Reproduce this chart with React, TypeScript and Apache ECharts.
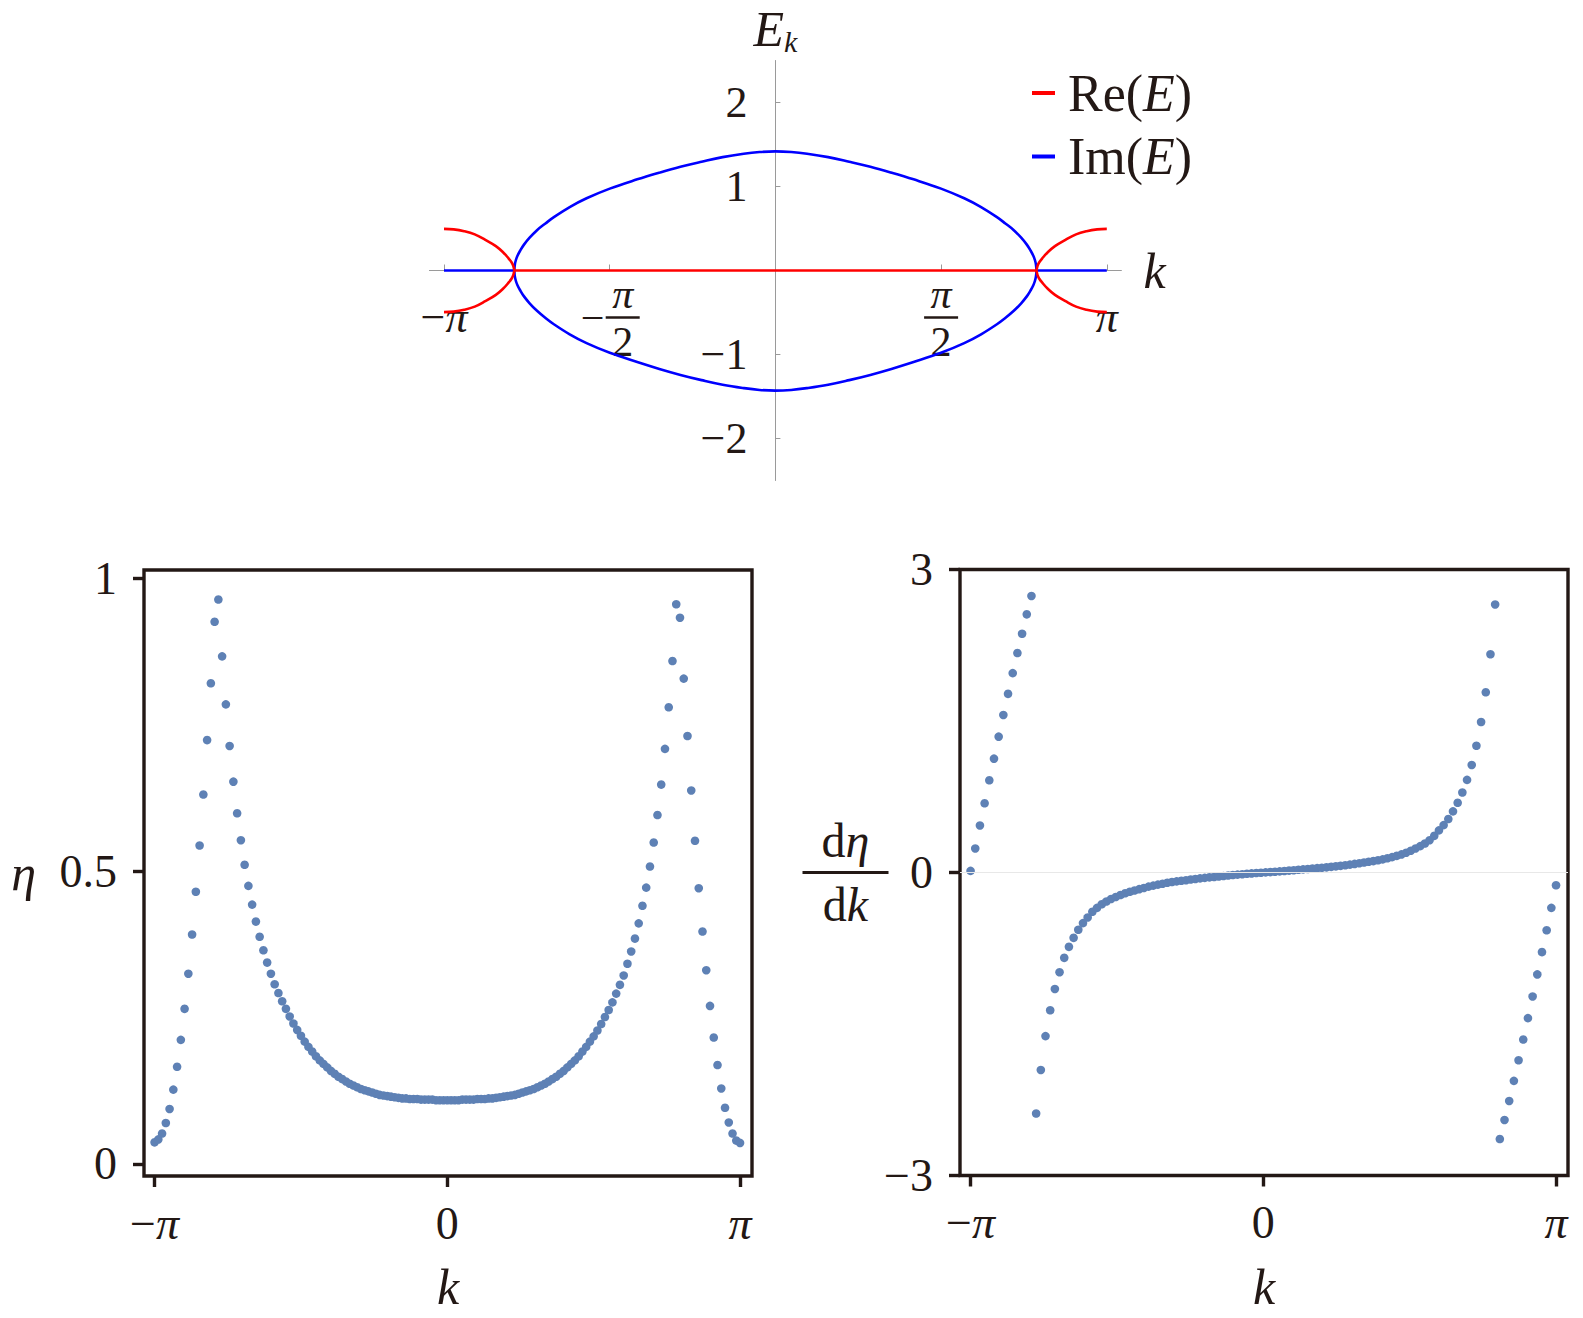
import React, { useEffect, useRef } from 'react';
import * as echarts from 'echarts';

const PI = Math.PI;
const FONT = '"Liberation Serif", "Times New Roman", Times, serif';
const INK = '#231815';
const DOT = '#5e81b5';
const RED = '#ff0000';
const BLUE = '#0000ff';
const AXIS_GRAY = '#9a9a9a';

// ---------- top panel: E_k ----------
const imCurveK = [-2.475, -2.47, -2.46, -2.445, -2.42, -2.385, -2.33, -2.26, -2.18, -2.1, -1.95, -1.79, -1.57, -1.31, -1.1, -0.9, -0.7, -0.5, -0.3, -0.15, 0,
  0.15, 0.3, 0.5, 0.7, 0.9, 1.1, 1.31, 1.57, 1.79, 1.95, 2.1, 2.18, 2.26, 2.33, 2.385, 2.42, 2.445, 2.46, 2.47, 2.475];
const imUpper = [0, 0.07, 0.125, 0.175, 0.235, 0.305, 0.39, 0.48, 0.56, 0.635, 0.755, 0.86, 0.975, 1.085, 1.165, 1.235, 1.295, 1.35, 1.39, 1.41, 1.418,
  1.41, 1.39, 1.35, 1.295, 1.235, 1.165, 1.085, 0.975, 0.86, 0.755, 0.635, 0.56, 0.48, 0.39, 0.305, 0.235, 0.175, 0.125, 0.07, 0];
const imLower = [0, -0.07, -0.125, -0.175, -0.235, -0.305, -0.39, -0.48, -0.565, -0.64, -0.76, -0.865, -0.98, -1.09, -1.172, -1.243, -1.305, -1.36, -1.4, -1.422, -1.43,
  -1.422, -1.4, -1.36, -1.305, -1.243, -1.172, -1.09, -0.98, -0.865, -0.76, -0.64, -0.565, -0.48, -0.39, -0.305, -0.235, -0.175, -0.125, -0.07, 0];
const imZeroLeftK = [-PI, -2.475];
const imZeroRightK = [2.475, PI];
const zeroPair = [0, 0];

const reLeftK = [-PI, -3.05, -2.95, -2.85, -2.75, -2.65, -2.58, -2.53, -2.5, -2.485, -2.475];
const reLeftUpper = [0.496, 0.49, 0.468, 0.43, 0.365, 0.29, 0.215, 0.145, 0.095, 0.055, 0];
const reLeftLower = [-0.496, -0.49, -0.468, -0.43, -0.365, -0.29, -0.215, -0.145, -0.095, -0.055, 0];
const reRightK = [2.475, 2.485, 2.5, 2.53, 2.58, 2.65, 2.75, 2.85, 2.95, 3.05, PI];
const reRightUpper = [0, 0.055, 0.095, 0.145, 0.215, 0.29, 0.365, 0.43, 0.468, 0.49, 0.496];
const reRightLower = [0, -0.055, -0.095, -0.145, -0.215, -0.29, -0.365, -0.43, -0.468, -0.49, -0.496];
const reZeroK = [-2.475, 2.475];

const topXTicks = [-PI, -PI / 2, PI / 2, PI];
const topYTicks = [-2, -1, 1, 2];

// ---------- bottom-left: eta(k), 157 samples from -pi to pi ----------
const etaValues = [
  0.037, 0.042, 0.052, 0.070, 0.094, 0.127, 0.166, 0.212, 0.265, 0.325,
  0.392, 0.465, 0.544, 0.631, 0.724, 0.821, 0.926, 0.964, 0.867, 0.785,
  0.714, 0.653, 0.599, 0.553, 0.511, 0.475, 0.443, 0.414, 0.388, 0.365,
  0.344, 0.325, 0.307, 0.292, 0.278, 0.265, 0.252, 0.240, 0.229, 0.219,
  0.209, 0.200, 0.192, 0.184, 0.177, 0.171, 0.165, 0.159, 0.154, 0.149,
  0.145, 0.141, 0.137, 0.134, 0.131, 0.128, 0.126, 0.124, 0.122, 0.120,
  0.118, 0.117, 0.116, 0.115, 0.114, 0.113, 0.112, 0.112, 0.111, 0.111,
  0.111, 0.110, 0.110, 0.110, 0.110, 0.109, 0.109, 0.109, 0.109,
  0.109, 0.109, 0.109, 0.110, 0.110, 0.110, 0.110, 0.111, 0.111, 0.111,
  0.112, 0.112, 0.113, 0.114, 0.115, 0.116, 0.117, 0.118, 0.120, 0.122,
  0.124, 0.126, 0.128, 0.131, 0.134, 0.137, 0.141, 0.145, 0.149, 0.154,
  0.159, 0.165, 0.171, 0.177, 0.184, 0.192, 0.200, 0.209, 0.218, 0.228,
  0.239, 0.251, 0.263, 0.276, 0.291, 0.306, 0.322, 0.342, 0.363, 0.385,
  0.411, 0.441, 0.472, 0.508, 0.549, 0.596, 0.648, 0.709, 0.780, 0.859,
  0.956, 0.933, 0.829, 0.731, 0.638, 0.552, 0.471, 0.397, 0.331, 0.270,
  0.216, 0.169, 0.129, 0.096, 0.071, 0.052, 0.040, 0.036,
];

// ---------- bottom-right: d eta / dk, 126 samples from -pi to pi ----------
const detaValues = [
  0.016, 0.238, 0.466, 0.685, 0.913, 1.127, 1.345, 1.56, 1.769, 1.974, 2.173, 2.364, 2.556, 2.738,
  -2.386, -1.955, -1.62, -1.364, -1.153, -0.987, -0.845, -0.736, -0.647, -0.567, -0.501, -0.445, -0.389,
  -0.35, -0.315, -0.287, -0.262, -0.242, -0.223, -0.206, -0.191, -0.178, -0.165, -0.153, -0.140, -0.130, -0.120, -0.111,
  -0.101, -0.094, -0.088, -0.082, -0.076, -0.070, -0.064, -0.058, -0.053, -0.048, -0.044, -0.040, -0.035, -0.030, -0.025, -0.021, -0.017, -0.013, -0.009, -0.005, -0.002,
  0.001, 0.004, 0.008, 0.011, 0.015, 0.019, 0.023, 0.027, 0.031, 0.035, 0.039, 0.043, 0.047, 0.051, 0.056, 0.061, 0.066, 0.072, 0.078, 0.085, 0.092, 0.099, 0.106, 0.113, 0.121, 0.130,
  0.141, 0.152, 0.165, 0.179, 0.196, 0.216, 0.238, 0.261, 0.287, 0.32, 0.363, 0.417, 0.469, 0.529, 0.605, 0.69, 0.792, 0.917, 1.065, 1.255, 1.49, 1.784, 2.161, 2.654,
  -2.639, -2.45, -2.262, -2.063, -1.859, -1.654, -1.442, -1.227, -1.009, -0.788, -0.572, -0.35, -0.126,
];

const bottomXTicks = [-PI, 0, PI];
const etaYTicks = [0, 0.5, 1];
const detaYTicks = [-3, 0, 3];

const pairs = (ks: number[], vs: number[]) => ks.map((k, i) => [k, vs[i]]);
const gridSamples = (vs: number[]) => {
  const step = (2 * PI) / (vs.length - 1);
  return vs.map((v, i) => [-PI + i * step, v]);
};
const near = (a: number, b: number) => Math.abs(a - b) < 1e-6;
const numFmt = (v: number) => (v < 0 ? '\u2212' + String(Math.abs(v)) : String(v));

const topXLabel = (v: number) => {
  if (near(v, -PI)) return '{n|\u2212}{pi|\u03c0}';
  if (near(v, PI)) return '{pi|\u03c0}';
  if (near(v, -PI / 2)) return '{sp|}{p|\u03c0}\n{m|\u2212}{bar|}\n{sp|}{d|2}';
  if (near(v, PI / 2)) return '{p|\u03c0}\n{bar|}\n{d|2}';
  return '';
};
const bottomXLabel = (v: number) => {
  if (near(v, -PI)) return '\u2212{pi|\u03c0}';
  if (near(v, PI)) return '{pi|\u03c0}';
  return '0';
};

const topRich = {
  n: { fontFamily: FONT, fontSize: 44, color: INK },
  pi: { fontFamily: FONT, fontSize: 44, fontStyle: 'italic', color: INK },
  p: { fontFamily: FONT, fontSize: 42, fontStyle: 'italic', color: INK, width: 34, align: 'center', lineHeight: 42 },
  d: { fontFamily: FONT, fontSize: 42, color: INK, width: 34, align: 'center', lineHeight: 42 },
  m: { fontFamily: FONT, fontSize: 42, color: INK, width: 26, lineHeight: 6 },
  sp: { width: 26, lineHeight: 6 },
  bar: { width: 34, height: 2.6, backgroundColor: INK, lineHeight: 6 },
};
const bottomRich = {
  pi: { fontFamily: FONT, fontSize: 46, fontStyle: 'italic', color: INK },
};

// top panel geometry (grid 0)
const TOP_GRID = { left: 429.4, top: 60.5, width: 692, height: 420 };

function buildOption() {
  const lineBase = {
    type: 'line',
    xAxisIndex: 0,
    yAxisIndex: 0,
    showSymbol: false,
    symbol: 'none',
    smooth: 0.4,
    silent: true,
  };
  const red = (data: number[][], z = 3) => ({ ...lineBase, name: 'Re(E)', data, z, color: RED, itemStyle: { color: RED }, lineStyle: { color: RED, width: 2.6 } });
  const blue = (data: number[][], z = 2) => ({ ...lineBase, name: 'Im(E)', data, z, color: BLUE, itemStyle: { color: BLUE }, lineStyle: { color: BLUE, width: 2.6 } });

  const frameTick = { show: true, length: 11, lineStyle: { color: INK, width: 3.4 } };

  return {
    animation: false,
    backgroundColor: '#ffffff',
    textStyle: { fontFamily: FONT },
    legend: {
      orient: 'vertical',
      left: 1032,
      top: 63,
      padding: 0,
      itemGap: 3.5,
      itemWidth: 23,
      itemHeight: 4,
      icon: 'rect',
      selectedMode: false,
      data: ['Re(E)', 'Im(E)'],
      formatter: (name: string) => (name === 'Re(E)' ? '{s|}Re({i|E})' : '{s|}Im({i|E})'),
      textStyle: {
        fontFamily: FONT,
        fontSize: 52,
        color: INK,
        lineHeight: 60,
        rich: {
          s: { width: 8 },
          i: { fontFamily: FONT, fontSize: 52, fontStyle: 'italic', color: INK },
        },
      },
    },
    grid: [
      { ...TOP_GRID, containLabel: false, outerBoundsMode: 'none' },
      { left: 144, top: 570, width: 608, height: 606, show: true, borderColor: INK, borderWidth: 3.4, backgroundColor: 'transparent', containLabel: false, outerBoundsMode: 'none' },
      { left: 960, top: 569.5, width: 608, height: 606, show: true, borderColor: INK, borderWidth: 3.4, backgroundColor: 'transparent', containLabel: false, outerBoundsMode: 'none' },
    ],
    xAxis: [
      {
        type: 'value', gridIndex: 0, min: -3.28, max: 3.28, position: 'bottom',
        offset: -TOP_GRID.height / 2,
        axisLine: { show: true, onZero: false, lineStyle: { color: AXIS_GRAY, width: 1 } },
        axisTick: { show: true, inside: true, length: 6, customValues: topXTicks, lineStyle: { color: AXIS_GRAY, width: 1 } },
        axisLabel: { show: true, customValues: topXTicks, formatter: topXLabel, margin: 47, verticalAlign: 'middle', color: INK, fontFamily: FONT, fontSize: 44, rich: topRich },
        splitLine: { show: false },
        name: 'k', nameLocation: 'end', nameGap: 22, nameMoveOverlap: false,
        nameTextStyle: { fontFamily: FONT, fontStyle: 'italic', fontSize: 50, color: INK, verticalAlign: 'middle' },
      },
      {
        type: 'value', gridIndex: 1, min: -3.255, max: 3.27,
        axisLine: { show: false, onZero: false },
        axisTick: { ...frameTick, customValues: bottomXTicks },
        axisLabel: { show: true, customValues: bottomXTicks, formatter: bottomXLabel, margin: 24, color: INK, fontFamily: FONT, fontSize: 46, rich: bottomRich },
        splitLine: { show: false },
        name: 'k', nameLocation: 'middle', nameGap: 86, nameMoveOverlap: false,
        nameTextStyle: { fontFamily: FONT, fontStyle: 'italic', fontSize: 50, color: INK },
      },
      {
        type: 'value', gridIndex: 2, min: -3.255, max: 3.27,
        axisLine: { show: false, onZero: false },
        axisTick: { ...frameTick, customValues: bottomXTicks },
        axisLabel: { show: true, customValues: bottomXTicks, formatter: bottomXLabel, margin: 24, color: INK, fontFamily: FONT, fontSize: 46, rich: bottomRich },
        splitLine: { show: false },
        name: 'k', nameLocation: 'middle', nameGap: 86, nameMoveOverlap: false,
        nameTextStyle: { fontFamily: FONT, fontStyle: 'italic', fontSize: 50, color: INK },
      },
    ],
    yAxis: [
      {
        type: 'value', gridIndex: 0, min: -2.5, max: 2.5, position: 'left',
        offset: -TOP_GRID.width / 2,
        axisLine: { show: true, onZero: false, lineStyle: { color: AXIS_GRAY, width: 1 } },
        axisTick: { show: true, inside: true, length: 5, customValues: topYTicks, lineStyle: { color: AXIS_GRAY, width: 1 } },
        axisLabel: { show: true, customValues: topYTicks, formatter: numFmt, margin: 28, color: INK, fontFamily: FONT, fontSize: 44 },
        splitLine: { show: false },
        name: '{e|E}{s|k}', nameLocation: 'end', nameGap: 4, nameMoveOverlap: false,
        nameTextStyle: {
          rich: {
            e: { fontFamily: FONT, fontStyle: 'italic', fontSize: 50, color: INK, lineHeight: 52 },
            s: { fontFamily: FONT, fontStyle: 'italic', fontSize: 30, color: INK, padding: [26, 0, 0, 0] },
          },
        },
      },
      {
        type: 'value', gridIndex: 1, min: -0.0205, max: 1.0145,
        axisLine: { show: false, onZero: false },
        axisTick: { ...frameTick, customValues: etaYTicks },
        axisLabel: { show: true, customValues: etaYTicks, formatter: (v: number) => String(v), margin: 27, color: INK, fontFamily: FONT, fontSize: 46 },
        splitLine: { show: false },
        name: '\u03b7', nameLocation: 'middle', nameRotate: 0, nameGap: 108, nameMoveOverlap: false,
        nameTextStyle: { fontFamily: FONT, fontStyle: 'italic', fontSize: 50, color: INK },
      },
      {
        type: 'value', gridIndex: 2, min: -3, max: 3,
        axisLine: { show: false, onZero: false },
        axisTick: { ...frameTick, customValues: detaYTicks },
        axisLabel: { show: true, customValues: detaYTicks, formatter: numFmt, margin: 27, color: INK, fontFamily: FONT, fontSize: 46 },
        splitLine: { show: false },
        name: '{a|d}{b|\u03b7}\n{bar|}\n{a|d}{b|k}', nameLocation: 'middle', nameRotate: 0, nameGap: 114.5, nameMoveOverlap: false,
        nameTextStyle: {
          align: 'center',
          rich: {
            a: { fontFamily: FONT, fontSize: 48, color: INK, lineHeight: 52 },
            b: { fontFamily: FONT, fontSize: 48, fontStyle: 'italic', color: INK, lineHeight: 52 },
            bar: { width: 86, height: 3, backgroundColor: INK, lineHeight: 12 },
          },
        },
      },
    ],
    series: [
      blue(pairs(imZeroLeftK, zeroPair)),
      blue(pairs(imZeroRightK, zeroPair)),
      blue(pairs(imCurveK, imUpper)),
      blue(pairs(imCurveK, imLower)),
      red(pairs(reZeroK, zeroPair)),
      red(pairs(reLeftK, reLeftUpper)),
      red(pairs(reLeftK, reLeftLower)),
      red(pairs(reRightK, reRightUpper)),
      red(pairs(reRightK, reRightLower)),
      {
        type: 'scatter', xAxisIndex: 1, yAxisIndex: 1, name: 'eta',
        data: gridSamples(etaValues), symbol: 'circle', symbolSize: 8.6,
        itemStyle: { color: DOT, opacity: 1 }, silent: true, z: 3,
      },
      {
        type: 'scatter', xAxisIndex: 2, yAxisIndex: 2, name: 'zero', data: [], z: 1, silent: true,
        markLine: {
          silent: true, symbol: ['none', 'none'], label: { show: false },
          lineStyle: { color: '#e8e8e8', width: 1, type: 'solid' },
          data: [{ yAxis: 0 }],
        },
      },
      {
        type: 'scatter', xAxisIndex: 2, yAxisIndex: 2, name: 'deta',
        data: gridSamples(detaValues), symbol: 'circle', symbolSize: 8.6,
        itemStyle: { color: DOT, opacity: 1 }, silent: true, z: 3,
      },
    ],
  };
}

export default function App() {
  const ref = useRef<HTMLDivElement>(null);
  useEffect(() => {
    if (!ref.current) return;
    const chart = echarts.init(ref.current, null, { renderer: 'svg' });
    chart.setOption(buildOption() as any);
    return () => chart.dispose();
  }, []);
  return (
    <div
      ref={ref}
      style={{ position: 'absolute', left: 0, top: 0, width: 1583, height: 1318, background: '#ffffff' }}
    />
  );
}
